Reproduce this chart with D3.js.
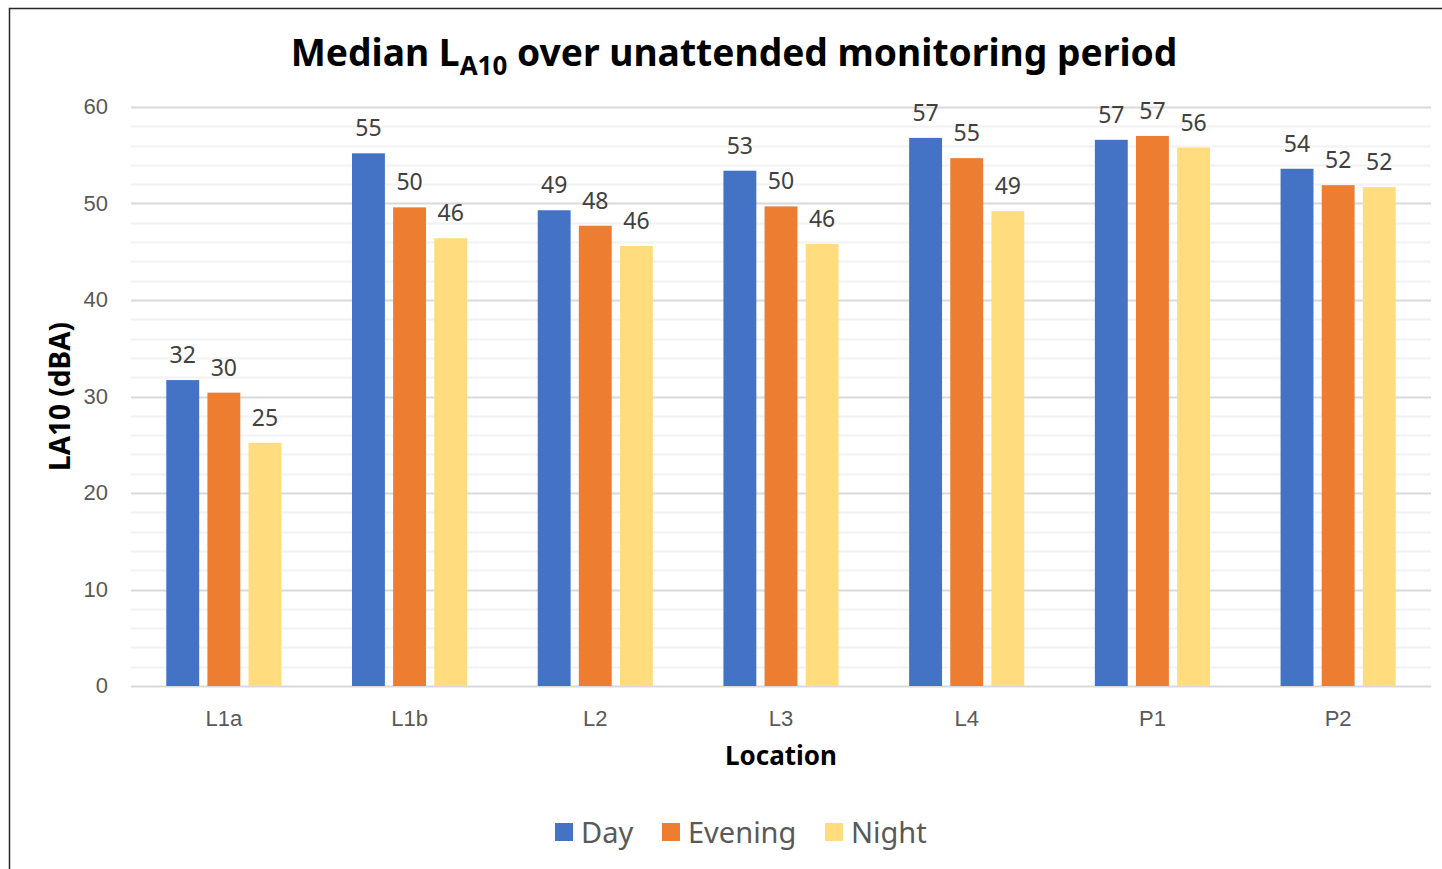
<!DOCTYPE html>
<html>
<head>
<meta charset="utf-8">
<script src="https://cdn.jsdelivr.net/npm/d3@7"></script>
<style>
  body { margin: 0; background: #fff; }
  svg { display: block; font-family: "Noto Sans", "DejaVu Sans", sans-serif; }
</style>
</head>
<body>
<div id="chart"></div>
<script>
// chart data
var locations = ["L1a", "L1b", "L2", "L3", "L4", "P1", "P2"];
var seriesNames = ["Day", "Evening", "Night"];
var dayValues = [31.7, 55.2, 49.3, 53.4, 56.8, 56.6, 53.6];
var eveningValues = [30.4, 49.6, 47.7, 49.7, 54.7, 57.0, 51.9];
var nightValues = [25.2, 46.4, 45.6, 45.8, 49.2, 55.8, 51.7];
var yTicks = [0, 10, 20, 30, 40, 50, 60];

var colors = ["#4472c4", "#ed7d31", "#ffdc7e"];

var svgWidth = 1442;
var svgHeight = 869;

var margin = { top: 107, right: 11, bottom: 183, left: 131 };
var chartWidth = svgWidth - margin.left - margin.right;
var chartHeight = svgHeight - margin.top - margin.bottom;

var svg = d3.select("#chart")
  .append("svg")
  .attr("width", svgWidth)
  .attr("height", svgHeight);

// outer border (only left/top are inside the frame)
svg.append("rect")
  .attr("x", 9.5).attr("y", 8.5)
  .attr("width", 1500).attr("height", 1000)
  .attr("fill", "none")
  .attr("stroke", "#262626")
  .attr("stroke-width", 1.5);

var chartGroup = svg.append("g")
  .attr("transform", `translate(${margin.left}, ${margin.top})`);

// scales
var x0 = d3.scaleBand().domain(locations).range([0, chartWidth]).paddingInner(0.38).paddingOuter(0.19);
var x1 = d3.scaleBand().domain(seriesNames).range([0, x0.bandwidth()]).paddingInner(0.2);
var y = d3.scaleLinear().domain([0, 60]).range([chartHeight, 0]);

// minor gridlines every 2
chartGroup.append("g")
  .selectAll("line")
  .data(d3.range(2, 60, 2).filter(d => d % 10 !== 0))
  .enter()
  .append("line")
  .attr("x1", 0).attr("x2", chartWidth)
  .attr("y1", d => Math.round(y(d)) + 0.5).attr("y2", d => Math.round(y(d)) + 0.5)
  .attr("stroke", "#f2f2f2")
  .attr("stroke-width", 2);

// major gridlines
chartGroup.append("g")
  .selectAll("line")
  .data(yTicks)
  .enter()
  .append("line")
  .attr("x1", 0).attr("x2", chartWidth)
  .attr("y1", d => Math.round(y(d)) + 0.5).attr("y2", d => Math.round(y(d)) + 0.5)
  .attr("stroke", "#d9d9d9")
  .attr("stroke-width", 2);

// left axis labels
var leftAxis = d3.axisLeft(y).tickValues(yTicks).tickSize(0).tickPadding(23);
var yAxisG = chartGroup.append("g").call(leftAxis);
yAxisG.select(".domain").remove();
yAxisG.selectAll("text")
  .attr("fill", "#595959")
  .style("font-size", "22px")
  .attr("dy", "0.3em");

// bottom axis labels
var bottomAxis = d3.axisBottom(x0).tickSize(0).tickPadding(24);
var xAxisG = chartGroup.append("g")
  .attr("transform", "translate(0, " + chartHeight + ")")
  .call(bottomAxis);
xAxisG.select(".domain").remove();
xAxisG.selectAll("text")
  .attr("fill", "#595959")
  .style("font-size", "22px");

// bars
var series = [dayValues, eveningValues, nightValues];
var barData = [];
locations.forEach(function(loc, i) {
  seriesNames.forEach(function(s, j) {
    barData.push({ loc: loc, series: s, value: series[j][i], color: colors[j] });
  });
});

chartGroup.selectAll("rect.bar")
  .data(barData)
  .enter()
  .append("rect")
  .attr("class", "bar")
  .attr("x", d => x0(d.loc) + x1(d.series))
  .attr("y", d => y(d.value))
  .attr("width", x1.bandwidth())
  .attr("height", d => chartHeight - y(d.value))
  .attr("fill", d => d.color);

// data labels
chartGroup.selectAll("text.label")
  .data(barData)
  .enter()
  .append("text")
  .attr("class", "label")
  .attr("x", d => x0(d.loc) + x1(d.series) + x1.bandwidth() / 2)
  .attr("y", d => y(d.value) - 17)
  .attr("text-anchor", "middle")
  .attr("fill", "#404040")
  .style("font-size", "23px")
  .text(d => Math.round(d.value));

// axis titles
chartGroup.append("text")
  .attr("x", chartWidth / 2)
  .attr("y", chartHeight + 79)
  .attr("text-anchor", "middle")
  .style("font-size", "26px")
  .style("font-weight", "bold")
  .attr("fill", "#000")
  .text("Location");

chartGroup.append("text")
  .attr("transform", "rotate(-90)")
  .attr("x", 0 - chartHeight / 2)
  .attr("y", 0 - margin.left + 70)
  .attr("text-anchor", "middle")
  .style("font-size", "28px")
  .style("font-weight", "bold")
  .attr("fill", "#000")
  .text("LA10 (dBA)");

// title with subscript
var title = svg.append("text")
  .attr("x", 734)
  .attr("y", 66)
  .attr("text-anchor", "middle")
  .style("font-size", "33px")
  .style("font-weight", "bold")
  .attr("fill", "#000");
title.append("tspan").text("Median L");
title.append("tspan").attr("dy", 9).style("font-size", "23px").text("A10");
title.append("tspan").attr("dy", -9).text(" over unattended monitoring period");

// fit title width to reference
var tw = title.node().getComputedTextLength();
var scale = 887 / tw;
title.style("font-size", (33 * scale) + "px");
title.selectAll("tspan").filter((d, i) => i === 1).style("font-size", (23 * scale) + "px");

// legend
var legendX = [555, 662, 825];
var legend = svg.append("g");
seriesNames.forEach(function(s, i) {
  legend.append("rect")
    .attr("x", legendX[i]).attr("y", 823)
    .attr("width", 18).attr("height", 18)
    .attr("fill", colors[i]);
  legend.append("text")
    .attr("x", legendX[i] + 26).attr("y", 843)
    .style("font-size", "29px")
    .attr("fill", "#595959")
    .text(s);
});
</script>
</body>
</html>
